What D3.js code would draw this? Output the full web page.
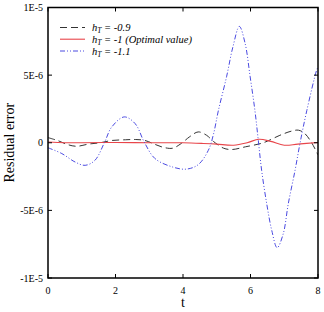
<!DOCTYPE html>
<html><head><meta charset="utf-8">
<script src="https://cdn.jsdelivr.net/npm/d3@7"></script>
<style>body{margin:0;background:#fff}svg{display:block}</style>
</head><body>
<svg id="c" width="324" height="312"></svg>
<script>
const xTicks = [0, 2, 4, 6, 8];
const xTickLabels = ["0", "2", "4", "6", "8"];
const yTicks = [1e-5, 5e-6, 0, -5e-6, -1e-5];
const yTickLabels = ["1E-5", "5E-6", "0", "-5E-6", "-1E-5"];

// values in units of 1E-6
const tBlack = [0,0.3,0.6,0.85,1.2,1.54,1.9,2.3,2.6,2.87,3.2,3.45,3.7,3.95,4.2,4.45,4.7,4.9,5.2,5.45,5.85,6.38,6.87,7.2,7.42,7.6,7.8,8];
const vBlack = [0.38,0.15,-0.15,-0.26,-0.1,0.0,0.17,0.22,0.24,0.17,-0.15,-0.36,-0.4,-0.05,0.45,0.8,0.55,0.1,-0.4,-0.5,-0.3,0.0,0.55,0.85,0.93,0.7,0.05,-0.9];

const tRed = [0,0.5,1,2,3,4,4.6,5.0,5.5,5.9,6.25,6.6,7.0,7.4,8];
const vRed = [0.05,0.0,0.0,0.02,0.0,0.0,-0.05,-0.1,-0.18,0.0,0.26,0.1,-0.18,-0.1,0.02];

const tBlue = [0,0.41,0.8,1.1,1.39,1.67,1.89,2.26,2.58,2.85,3.17,3.7,4.1,4.45,4.75,4.9,5.05,5.29,5.48,5.67,5.84,5.99,6.13,6.23,6.33,6.48,6.63,6.79,6.97,7.12,7.32,7.47,7.67,7.96,8];
const vBlue = [-0.37,-0.8,-1.42,-1.67,-1.3,0,1.17,1.91,1.42,0.06,-1.17,-1.8,-1.95,-1.62,-0.56,0.6,2.4,4.87,7.1,8.6,7.35,4.87,2.4,0.2,-2.04,-4.5,-6.48,-7.76,-6.73,-4.5,-2.04,0,2.4,5.37,5.6];

const seriesNames = ["-0.9", "-1 (Optimal value)", "-1.1"];

const svg = d3.select("#c");
const L = 48, R = 318, T = 7.5, B = 278;
const x = d3.scaleLinear().domain([0, 8]).range([L, R]);
const y = d3.scaleLinear().domain([-1e-5, 1e-5]).range([B, T]);
const serif = "'Liberation Serif', 'DejaVu Serif', serif";

svg.append("clipPath").attr("id","clp").append("rect")
  .attr("x", L).attr("y", T).attr("width", R-L).attr("height", B-T);

const line = d3.line().x(d => x(d[0])).y(d => y(d[1]*1e-6)).curve(d3.curveCatmullRom.alpha(0.5));
const g = svg.append("g").attr("clip-path","url(#clp)");

const series = [
  {t: tBlack, v: vBlack, color: "#333", dash: "7,4", w: 1},
  {t: tRed, v: vRed, color: "#e8454a", dash: null, w: 1.1},
  {t: tBlue, v: vBlue, color: "#4a4ae0", dash: "5,2,1,2,1,2", w: 1},
];
series.forEach(s => {
  g.append("path").datum(s.t.map((t,i)=>[t, s.v[i]]))
    .attr("d", line).attr("fill","none").attr("stroke", s.color)
    .attr("stroke-width", s.w).attr("stroke-dasharray", s.dash);
});

// axes with inward ticks, mirrored
const tk = 4;
const axG = svg.append("g").attr("stroke","#000").attr("stroke-width",1);
xTicks.forEach(v => {
  axG.append("line").attr("x1", x(v)).attr("x2", x(v)).attr("y1", B).attr("y2", B-tk);
  axG.append("line").attr("x1", x(v)).attr("x2", x(v)).attr("y1", T).attr("y2", T+tk);
});
yTicks.forEach(v => {
  axG.append("line").attr("y1", y(v)).attr("y2", y(v)).attr("x1", L).attr("x2", L+tk);
  axG.append("line").attr("y1", y(v)).attr("y2", y(v)).attr("x1", R).attr("x2", R-tk);
});
svg.append("rect").attr("x", L).attr("y", T).attr("width", R-L).attr("height", B-T)
  .attr("fill","none").attr("stroke","#000").attr("stroke-width",1.5);

xTicks.forEach((v,i) => {
  svg.append("text").attr("x", x(v)).attr("y", B+16).attr("text-anchor","middle")
    .attr("font-family", serif).attr("font-size", 10).text(xTickLabels[i]);
});
yTicks.forEach((v,i) => {
  svg.append("text").attr("x", L-5).attr("y", y(v)+3.5).attr("text-anchor","end")
    .attr("font-family", serif).attr("font-size", 10).text(yTickLabels[i]);
});
svg.append("text").attr("x", (L+R)/2).attr("y", 307).attr("text-anchor","middle")
  .attr("font-family", serif).attr("font-size", 14).text("t");
svg.append("text").attr("transform", `translate(14,${(T+B)/2}) rotate(-90)`).attr("text-anchor","middle")
  .attr("font-family", serif).attr("font-size", 14).text("Residual error");

// legend
const legY = [27.5, 39.2, 51];
series.forEach((s,i) => {
  svg.append("line").attr("x1", 60).attr("x2", 85).attr("y1", legY[i]).attr("y2", legY[i])
    .attr("stroke", s.color).attr("stroke-width", s.w).attr("stroke-dasharray", s.dash);
  const tx = svg.append("text").attr("x", 92).attr("y", legY[i]+3.5)
    .attr("font-family", serif).attr("font-size", 10.5).attr("font-style","italic");
  tx.append("tspan").text("h");
  tx.append("tspan").attr("font-size", 7.5).attr("dy", 2).text("T");
  tx.append("tspan").attr("dy", -2).text(" = " + seriesNames[i]);
});
</script>
</body></html>
